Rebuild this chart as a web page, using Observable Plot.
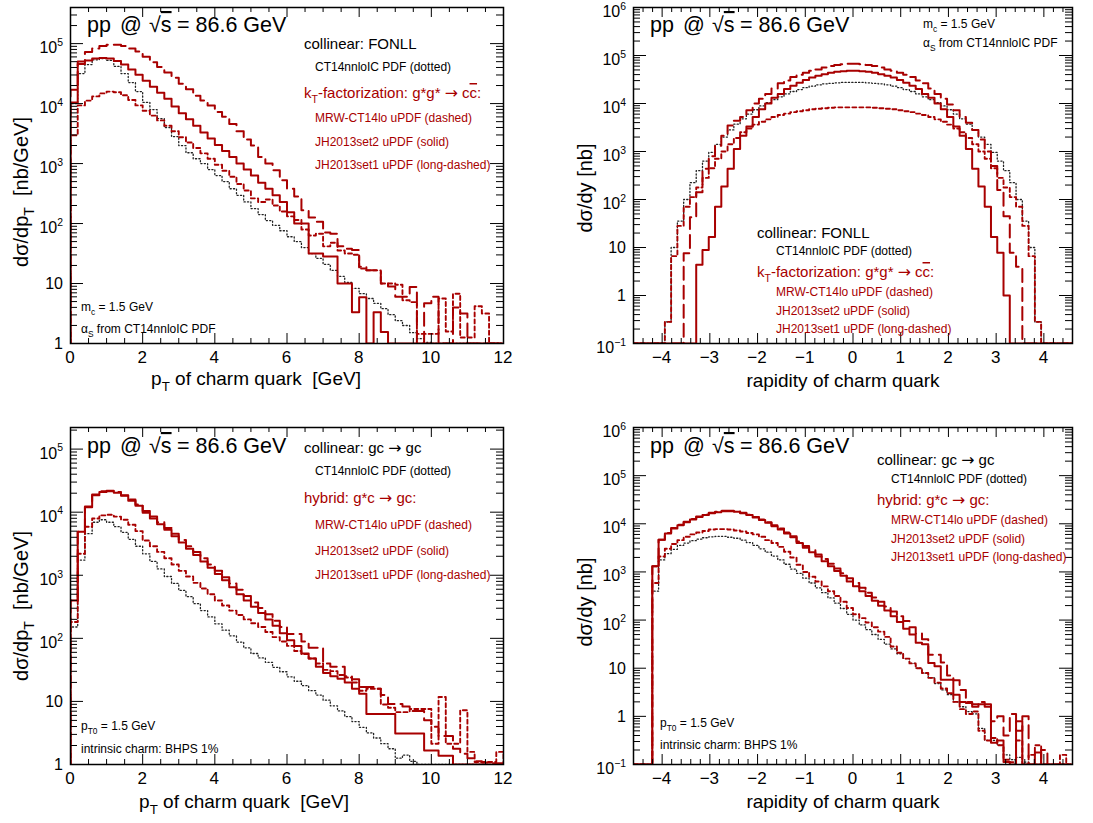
<!DOCTYPE html>
<html>
<head>
<meta charset="utf-8">
<script src="https://cdn.jsdelivr.net/npm/d3@7"></script>
<script src="https://cdn.jsdelivr.net/npm/@observablehq/plot@0.6"></script>
<style>
html,body{margin:0;padding:0;background:#fff;}
body{width:1093px;height:823px;position:relative;overflow:hidden;}
.panel{position:absolute;}
.panel svg{display:block;overflow:visible;}
</style>
</head>
<body>
<div id="p1" class="panel" style="left:0px;top:0px"></div>
<div id="p2" class="panel" style="left:546px;top:0px"></div>
<div id="p3" class="panel" style="left:0px;top:410px"></div>
<div id="p4" class="panel" style="left:546px;top:410px"></div>
<script>
// ---------------- DATA (log10 of the bin contents; null = empty bin) ----------------
// binning
const ptBins = {lo: 0, width: 0.2, n: 60};          // pT of charm quark [GeV]
const yBins  = {lo: -4.6, width: 9.2 / 70, n: 70};  // rapidity of charm quark

// panel 1: kT-factorization g*g* -> c cbar, dsigma/dpT [nb/GeV]
const kt_pt_solid_lg = [
4.02,4.66,4.72,4.75,4.76,4.75,4.71,4.65,4.57,4.48,
4.38,4.28,4.18,4.08,3.95,3.84,3.74,3.63,3.52,3.42,
3.31,3.21,3.11,3.00,2.90,2.80,2.68,2.58,2.47,2.36,
2.19,2.00,2.00,1.50,1.50,1.45,1.45,1.00,1.00,0.52,
0.77,null,0.52,0.19,null,null,null,null,null,null,
null,null,null,null,null,null,null,null,null,null];
const kt_pt_long_lg = [
4.23,4.70,4.86,4.92,4.96,4.98,4.98,4.96,4.92,4.87,
4.78,4.69,4.61,4.52,4.43,4.33,4.24,4.13,4.05,3.97,
3.86,3.78,3.66,3.54,3.40,3.30,3.11,3.00,2.89,2.72,
2.58,2.45,2.22,2.10,2.03,1.85,1.83,1.62,1.58,1.56,
1.28,1.22,1.22,1.00,0.95,0.78,0.78,0.94,null,0.67,
0.78,null,null,0.60,0.50,null,null,null,null,null];
const kt_pt_dashed_lg = [
3.47,3.97,4.05,4.12,4.17,4.20,4.19,4.14,4.06,3.97,
3.88,3.80,3.72,3.63,3.54,3.44,3.35,3.26,3.17,3.08,
2.98,2.88,2.78,2.66,2.55,2.42,2.36,2.40,2.30,2.20,
2.12,2.06,1.90,1.80,1.83,1.62,1.68,1.55,1.50,1.48,
1.25,1.22,1.22,1.00,1.00,0.98,0.72,0.69,0.16,0.16,
0.16,0.75,0.20,0.83,0.10,0.10,0.62,0.50,null,null];
const fonll_pt_lg = [
4.00,4.50,4.65,4.73,4.75,4.72,4.62,4.50,4.35,4.20,
4.02,3.90,3.75,3.60,3.45,3.30,3.18,3.08,3.00,2.90,
2.80,2.70,2.58,2.47,2.36,2.25,2.15,2.05,1.97,1.88,
1.78,1.70,1.60,1.50,1.42,1.32,1.22,1.12,1.02,0.92,
0.83,0.75,0.67,0.58,0.48,0.38,0.30,0.18,0.08,0.02,
null,null,null,null,null,null,null,null,null,null];

// panel 2: kT-factorization, dsigma/dy [nb]
const kt_y_long_lg = [
null,null,null,null,null,null,null,null,0.88,1.63,
2.15,2.64,2.90,3.12,3.33,3.54,3.64,3.72,3.86,4.00,
4.10,4.20,4.31,4.42,4.48,4.55,4.60,4.64,4.68,4.71,
4.75,4.78,4.80,4.82,4.83,4.83,4.82,4.80,4.78,4.75,
4.71,4.68,4.64,4.60,4.55,4.48,4.42,4.31,4.20,4.10,
3.98,3.86,3.72,3.60,3.45,3.25,3.00,2.70,2.20,1.65,
0.89,0.60,null,null,null,null,null,null,null,null];
const kt_y_solid_lg = [
null,null,null,null,null,null,null,null,null,null,
0.64,0.95,1.22,1.85,2.27,2.64,3.05,3.33,3.52,3.72,
3.88,4.00,4.12,4.20,4.30,4.37,4.43,4.49,4.54,4.58,
4.61,4.64,4.66,4.67,4.68,4.68,4.67,4.66,4.64,4.61,
4.58,4.54,4.49,4.43,4.37,4.30,4.20,4.12,4.00,3.88,
3.72,3.52,3.33,3.05,2.64,2.27,1.85,1.22,0.89,0.00,
null,null,null,null,null,null,null,null,null,null];
const kt_y_dashed_lg = [
null,null,null,null,null,-0.55,0.82,1.45,1.85,2.05,
2.25,2.45,2.65,2.85,3.00,3.15,3.28,3.40,3.48,3.56,
3.62,3.67,3.72,3.76,3.79,3.82,3.84,3.86,3.88,3.89,
3.90,3.91,3.92,3.92,3.92,3.92,3.92,3.92,3.91,3.90,
3.89,3.88,3.86,3.84,3.82,3.79,3.76,3.72,3.67,3.62,
3.56,3.48,3.40,3.28,3.15,3.00,2.85,2.65,2.45,2.25,
2.05,1.85,1.45,0.82,-0.55,null,null,null,null,null];
const fonll_y_lg = [
null,null,null,null,null,-0.55,1.00,1.55,2.00,2.35,
2.60,2.80,2.98,3.15,3.30,3.45,3.57,3.68,3.78,3.87,
3.95,4.02,4.08,4.14,4.20,4.25,4.29,4.33,4.36,4.39,
4.41,4.42,4.43,4.44,4.44,4.44,4.44,4.43,4.42,4.41,
4.39,4.36,4.33,4.29,4.25,4.20,4.14,4.08,4.02,3.95,
3.87,3.78,3.68,3.57,3.45,3.30,3.15,2.98,2.80,2.60,
2.35,2.00,1.55,1.00,-0.55,null,null,null,null,null];

// panel 3: hybrid g*c -> gc, dsigma/dpT [nb/GeV]
const hyb_pt_solid_lg = [
2.60,3.69,4.08,4.27,4.32,4.33,4.31,4.26,4.18,4.10,
3.99,3.90,3.81,3.72,3.62,3.52,3.42,3.32,3.22,3.12,
3.02,2.92,2.81,2.70,2.60,2.50,2.40,2.30,2.20,2.08,
1.97,1.88,1.76,1.68,1.55,1.45,1.40,1.36,1.30,1.20,
1.12,0.80,0.80,0.80,0.80,0.49,0.49,0.49,0.49,0.22,
0.22,0.14,0.14,null,null,null,null,null,null,null];
const hyb_pt_long_lg = [
2.60,3.69,4.09,4.28,4.33,4.34,4.32,4.27,4.20,4.12,
4.02,3.93,3.84,3.75,3.66,3.56,3.46,3.37,3.27,3.17,
3.07,2.97,2.87,2.77,2.67,2.57,2.48,2.38,2.28,2.18,
2.07,2.07,1.95,1.85,1.85,1.60,1.55,1.55,1.40,1.35,
1.23,1.23,1.20,1.10,0.96,0.96,0.92,0.85,0.85,0.70,
0.60,0.45,0.45,0.25,0.17,0.10,0.05,0.03,0.02,0.02];
const hyb_pt_dashed_lg = [
2.26,3.34,3.77,3.90,3.95,3.96,3.93,3.88,3.80,3.70,
3.55,3.46,3.37,3.27,3.17,3.07,2.98,2.88,2.79,2.70,
2.60,2.52,2.44,2.37,2.30,2.24,2.18,2.10,2.02,1.95,
1.88,1.80,1.75,1.68,1.60,1.50,1.48,1.42,1.38,1.30,
1.17,1.20,1.20,0.95,0.90,0.83,0.83,0.88,0.88,0.88,
0.33,1.07,0.33,0.33,0.86,0.20,0.04,0.04,0.04,0.20];
const fonll_gc_pt_lg = [
2.18,3.24,3.66,3.84,3.88,3.84,3.77,3.68,3.57,3.46,
3.34,3.22,3.10,2.98,2.87,2.76,2.66,2.55,2.44,2.34,
2.23,2.13,2.04,1.94,1.85,1.76,1.69,1.62,1.54,1.47,
1.39,1.32,1.25,1.17,1.10,1.02,0.93,0.85,0.76,0.68,
0.59,0.50,0.42,0.33,0.25,0.10,0.15,0.05,null,null,
null,null,null,null,null,null,null,null,null,null];

// panel 4: hybrid g*c -> gc, dsigma/dy [nb]
const hyb_y_solid_lg = [
null,null,null,3.12,3.67,3.80,3.90,3.97,4.03,4.09,
4.14,4.18,4.22,4.24,4.26,4.26,4.25,4.22,4.18,4.13,
4.08,4.02,3.95,3.88,3.80,3.72,3.60,3.50,3.41,3.32,
3.22,3.12,3.02,2.92,2.80,2.70,2.60,2.50,2.40,2.30,
2.20,2.08,1.96,1.82,1.70,1.53,1.50,1.11,1.04,0.76,
0.76,0.45,0.30,0.28,0.20,0.25,0.25,-0.55,-0.50,-0.95,
null,-0.10,null,null,-0.75,null,null,null,null,null];
const hyb_y_long_lg = [
null,null,null,3.12,3.67,3.81,3.91,3.98,4.04,4.10,
4.15,4.19,4.23,4.25,4.27,4.27,4.26,4.23,4.19,4.14,
4.09,4.03,3.97,3.90,3.82,3.74,3.63,3.54,3.45,3.36,
3.27,3.17,3.07,2.97,2.87,2.77,2.67,2.57,2.47,2.38,
2.28,2.18,2.08,1.98,1.85,1.72,1.60,1.28,1.28,1.12,
0.85,0.75,0.55,0.30,0.25,0.30,0.20,-0.10,0.00,-0.40,
0.05,-0.30,0.00,null,null,-0.70,null,null,null,null];
const hyb_y_dashed_lg = [
null,null,null,2.77,3.32,3.48,3.58,3.66,3.73,3.78,
3.82,3.85,3.88,3.89,3.89,3.88,3.86,3.84,3.81,3.78,
3.73,3.66,3.60,3.52,3.42,3.30,3.15,3.00,2.90,2.80,
2.70,2.60,2.50,2.38,2.25,2.12,2.04,1.95,1.85,1.76,
1.65,1.45,1.32,1.20,1.10,1.00,0.90,0.80,0.70,0.58,
0.48,0.30,0.15,0.05,0.10,-0.30,-0.50,-0.45,-0.60,-0.90,
-0.95,-0.50,null,-0.80,-0.60,null,null,null,-0.80,null];
const fonll_gc_y_lg = [
null,null,null,2.60,3.25,3.38,3.47,3.55,3.60,3.65,
3.68,3.71,3.73,3.74,3.74,3.72,3.70,3.66,3.61,3.55,
3.48,3.41,3.33,3.25,3.16,3.06,2.97,2.87,2.77,2.67,
2.57,2.46,2.35,2.24,2.12,2.00,1.90,1.80,1.70,1.60,
1.50,1.40,1.30,1.20,1.10,1.00,0.90,0.80,0.68,0.55,
0.45,0.30,0.20,0.10,0.05,-0.25,-0.50,-0.50,-0.60,-0.80,
-0.90,-0.85,-0.95,null,null,null,null,null,null,null];

// tick values
const ptMajor = [0, 2, 4, 6, 8, 10, 12];
const yMajorX = [-4, -3, -2, -1, 0, 1, 2, 3, 4];

// ---------------- DRAWING ----------------
const RED = "#a80000";
const FONT = '"Liberation Sans", Arial, Helvetica, sans-serif';
const STY = {
  dotted: {stroke: "#222", strokeWidth: 1.3, strokeDasharray: "1.2,2.2"},
  dashed: {stroke: RED, strokeWidth: 1.9, strokeDasharray: "4,3"},
  solid:  {stroke: RED, strokeWidth: 2},
  long:   {stroke: RED, strokeWidth: 2, strokeDasharray: "13,6"}
};

function histRows(lg, bins, floor) {
  const pts = [{x: bins.lo, y: floor}];
  lg.forEach((v, i) => pts.push({x: bins.lo + i * bins.width, y: v == null ? floor : Math.pow(10, v)}));
  const last = lg[lg.length - 1];
  const xe = bins.lo + lg.length * bins.width;
  pts.push({x: xe, y: last == null ? floor : Math.pow(10, last)});
  pts.push({x: xe, y: floor});
  return pts;
}

function scaleFn(plot, name) {
  const s = plot.scale(name);
  if (s && typeof s.apply === "function") return v => s.apply(v);
  const sc = (s.type === "log" ? d3.scaleLog() : d3.scaleLinear()).domain(s.domain).range(s.range);
  return v => sc(v);
}

function txt(svg, x, y, parts, o = {}) {
  const size = o.size || 12;
  const t = d3.select(svg).append("text")
    .attr("x", x).attr("y", y)
    .attr("font-family", FONT).attr("font-size", size)
    .attr("fill", o.fill || "#000")
    .attr("text-anchor", o.anchor || "start")
    .style("white-space", "pre");
  if (o.rotate) t.attr("transform", `rotate(${o.rotate},${x},${y})`);
  let shift = 0;
  for (const p of (Array.isArray(parts) ? parts : [parts])) {
    const q = typeof p === "string" ? {t: p} : p;
    let target = 0, fs = size;
    if (q.sub) { target = size * 0.32; fs = size * 0.7; }
    if (q.sup) { target = -size * 0.45; fs = size * 0.65; }
    if (q.scale) fs = size * q.scale;
    const ts = t.append("tspan").attr("font-size", fs).text(q.t);
    if (q.font) ts.attr("font-family", q.font);
    if (q.x != null) ts.attr("x", q.x);
    if (target - shift !== 0) ts.attr("dy", target - shift);
    if (q.over) ts.style("text-decoration", "overline");
    shift = target;
  }
  return t;
}
const ARROW = {t: "\u2192", font: '"DejaVu Sans", sans-serif', scale: 1.05};

function drawPanel(c) {
  const fw = c.W - c.mL - c.mR, fh = c.H - c.mT - c.mB;
  const floor = c.yDomain[0];
  const kmin = Math.round(Math.log10(c.yDomain[0]));
  const kmax = Math.floor(Math.log10(c.yDomain[1]) + 1e-9);
  const yMajor = [], yMinor = [];
  for (let k = kmin; k <= kmax; k++) {
    yMajor.push(Math.pow(10, k));
    for (let m = 2; m <= 9; m++) {
      const v = m * Math.pow(10, k);
      if (v <= c.yDomain[1] * 1.0001) yMinor.push(v);
    }
  }
  const marks = [];
  for (const s of c.series) {
    marks.push(Plot.line(histRows(s.lg, c.bins, floor), {
      x: "x", y: "y", curve: "step-after", clip: true, ...STY[s.kind]
    }));
  }
  marks.push(Plot.tickX(c.xMajor, {x: d => d, insetTop: fh - 10, stroke: "#000"}));
  marks.push(Plot.tickX(c.xMajor, {x: d => d, insetBottom: fh - 10, stroke: "#000"}));
  marks.push(Plot.tickX(c.xMinor, {x: d => d, insetTop: fh - 5, stroke: "#000"}));
  marks.push(Plot.tickX(c.xMinor, {x: d => d, insetBottom: fh - 5, stroke: "#000"}));
  marks.push(Plot.tickY(yMajor, {y: d => d, insetRight: fw - 13, stroke: "#000"}));
  marks.push(Plot.tickY(yMajor, {y: d => d, insetLeft: fw - 13, stroke: "#000"}));
  marks.push(Plot.tickY(yMinor, {y: d => d, insetRight: fw - 7, stroke: "#000"}));
  marks.push(Plot.tickY(yMinor, {y: d => d, insetLeft: fw - 7, stroke: "#000"}));
  marks.push(Plot.frame({stroke: "#000", strokeWidth: 1.5}));

  const plot = Plot.plot({
    width: c.W, height: c.H,
    marginLeft: c.mL, marginRight: c.mR, marginTop: c.mT, marginBottom: c.mB,
    x: {domain: c.xDomain, axis: null},
    y: {type: "log", domain: c.yDomain, axis: null},
    style: {background: "transparent", overflow: "visible"},
    marks
  });
  document.getElementById(c.id).appendChild(plot);
  const X = scaleFn(plot, "x"), Y = scaleFn(plot, "y");

  // x tick labels
  for (const v of c.xMajor) {
    txt(plot, X(v), c.mT + fh + 20, v < 0 ? "\u2212" + (-v) : String(v), {size: 17, anchor: "middle"});
  }
  // y tick labels
  for (let k = kmin; k <= kmax; k++) {
    const yy = Y(Math.pow(10, k));
    if (k === 0) txt(plot, c.mL - 7, yy + 6, "1", {size: 16, anchor: "end"});
    else if (k === 1) txt(plot, c.mL - 7, yy + 6, "10", {size: 16, anchor: "end"});
    else txt(plot, c.mL - 7, yy + 10, ["10", {t: k < 0 ? "\u2212" + (-k) : String(k), sup: true}], {size: 16, anchor: "end"});
  }
  // axis titles
  txt(plot, c.xTitle.x, c.xTitle.y, c.xTitle.parts, {size: 19, anchor: "middle"});
  txt(plot, c.yTitle.x, c.yTitle.y, c.yTitle.parts, {size: 20, anchor: "middle", rotate: -90});
  // sqrt(s) header
  const x0 = c.ppX;
  txt(plot, x0, c.ppY, [{t: "pp", x: x0}, {t: "@", x: x0 + 33}, {t: "\u221A", x: x0 + 62}, {t: "s", over: true}, {t: "= 86.6 GeV", x: x0 + 90}], {size: 21.5});
  // annotations
  for (const a of c.notes) txt(plot, a.x, a.y, a.parts, {size: a.size, fill: a.fill});
}

function minors(lo, hi, step, majors) {
  const out = [];
  const n = Math.round((hi - lo) / step);
  for (let i = 0; i <= n; i++) {
    const v = +(lo + i * step).toFixed(6);
    if (!majors.some(m => Math.abs(m - v) < 1e-6)) out.push(v);
  }
  return out;
}
const ptMinor = minors(0, 12, 0.5, ptMajor);
const yMinorX = minors(-4.6, 4.6, 0.2, yMajorX);

const ktLegend = (xa, xb, ys) => [
  {x: xa, y: ys[0], size: 15, fill: "#000", parts: ["collinear: FONLL"]},
  {x: xb, y: ys[1], size: 12, fill: "#000", parts: ["CT14nnloIC PDF (dotted)"]},
  {x: xa, y: ys[2], size: 15, fill: RED, parts: ["k", {t: "T", sub: true}, "-factorization: g*g* ", ARROW, " c", {t: "c", over: true}, ":"]},
  {x: xb, y: ys[3], size: 12, fill: RED, parts: ["MRW-CT14lo uPDF (dashed)"]},
  {x: xb, y: ys[4], size: 12, fill: RED, parts: ["JH2013set2 uPDF (solid)"]},
  {x: xb, y: ys[5], size: 12, fill: RED, parts: ["JH2013set1 uPDF (long-dashed)"]}
];
const hybLegend = (xa, xb, ys) => [
  {x: xa, y: ys[0], size: 15, fill: "#000", parts: ["collinear: gc ", ARROW, " gc"]},
  {x: xb, y: ys[1], size: 12, fill: "#000", parts: ["CT14nnloIC PDF (dotted)"]},
  {x: xa, y: ys[2], size: 15, fill: RED, parts: ["hybrid: g*c ", ARROW, " gc:"]},
  {x: xb, y: ys[3], size: 12, fill: RED, parts: ["MRW-CT14lo uPDF (dashed)"]},
  {x: xb, y: ys[4], size: 12, fill: RED, parts: ["JH2013set2 uPDF (solid)"]},
  {x: xb, y: ys[5], size: 12, fill: RED, parts: ["JH2013set1 uPDF (long-dashed)"]}
];
const mcNotes = (x, y1, y2) => [
  {x, y: y1, size: 12, fill: "#000", parts: ["m", {t: "c", sub: true}, " = 1.5 GeV"]},
  {x, y: y2, size: 12, fill: "#000", parts: ["\u03B1", {t: "S", sub: true}, " from CT14nnloIC PDF"]}
];
const icNotes = (x, y1, y2) => [
  {x, y: y1, size: 12, fill: "#000", parts: ["p", {t: "T0", sub: true}, " = 1.5 GeV"]},
  {x, y: y2, size: 12, fill: "#000", parts: ["intrinsic charm: BHPS 1%"]}
];
const ptTitle = ["p", {t: "T", sub: true}, " of charm quark  [GeV]"];
const yTitleText = ["rapidity of charm quark"];

drawPanel({
  id: "p1", W: 546, H: 410, mL: 70, mR: 43, mT: 7, mB: 67,
  xDomain: [0, 12], yDomain: [1, 4e5], bins: ptBins,
  xMajor: ptMajor, xMinor: ptMinor,
  series: [{lg: fonll_pt_lg, kind: "dotted"}, {lg: kt_pt_dashed_lg, kind: "dashed"}, {lg: kt_pt_solid_lg, kind: "solid"}, {lg: kt_pt_long_lg, kind: "long"}],
  xTitle: {x: 256, y: 385, parts: ptTitle},
  yTitle: {x: 28, y: 192, parts: ["d\u03C3/dp", {t: "T", sub: true}, "  [nb/GeV]"]},
  ppX: 87, ppY: 32,
  notes: [...ktLegend(304, 315, [49, 71, 98, 122, 146, 169]), ...mcNotes(81, 311, 333)]
});
drawPanel({
  id: "p2", W: 547, H: 410, mL: 87, mR: 21, mT: 7, mB: 67,
  xDomain: [-4.6, 4.6], yDomain: [0.1, 1e6], bins: yBins,
  xMajor: yMajorX, xMinor: yMinorX,
  series: [{lg: fonll_y_lg, kind: "dotted"}, {lg: kt_y_dashed_lg, kind: "dashed"}, {lg: kt_y_solid_lg, kind: "solid"}, {lg: kt_y_long_lg, kind: "long"}],
  xTitle: {x: 297, y: 387, parts: yTitleText},
  yTitle: {x: 46, y: 188, parts: ["d\u03C3/dy [nb]"]},
  ppX: 104, ppY: 32,
  notes: [...ktLegend(211, 230, [238, 255, 277, 296, 315, 333]), ...mcNotes(377, 28, 47)]
});
drawPanel({
  id: "p3", W: 546, H: 413, mL: 70, mR: 43, mT: 17, mB: 59,
  xDomain: [0, 12], yDomain: [1, 2.2e5], bins: ptBins,
  xMajor: ptMajor, xMinor: ptMinor,
  series: [{lg: fonll_gc_pt_lg, kind: "dotted"}, {lg: hyb_pt_dashed_lg, kind: "dashed"}, {lg: hyb_pt_solid_lg, kind: "solid"}, {lg: hyb_pt_long_lg, kind: "long"}],
  xTitle: {x: 244, y: 398, parts: ptTitle},
  yTitle: {x: 28, y: 196, parts: ["d\u03C3/dp", {t: "T", sub: true}, "  [nb/GeV]"]},
  ppX: 87, ppY: 43,
  notes: [...hybLegend(304, 315, [43, 65, 93, 119, 145, 169]), ...icNotes(81, 320, 343)]
});
drawPanel({
  id: "p4", W: 547, H: 413, mL: 87, mR: 21, mT: 17, mB: 59,
  xDomain: [-4.6, 4.6], yDomain: [0.1, 1e6], bins: yBins,
  xMajor: yMajorX, xMinor: yMinorX,
  series: [{lg: fonll_gc_y_lg, kind: "dotted"}, {lg: hyb_y_dashed_lg, kind: "dashed"}, {lg: hyb_y_solid_lg, kind: "solid"}, {lg: hyb_y_long_lg, kind: "long"}],
  xTitle: {x: 297, y: 398, parts: yTitleText},
  yTitle: {x: 46, y: 192, parts: ["d\u03C3/dy [nb]"]},
  ppX: 104, ppY: 43,
  notes: [...hybLegend(331, 345, [55, 73, 95, 114, 133, 151]), ...icNotes(114, 317, 339)]
});
</script>
</body>
</html>
